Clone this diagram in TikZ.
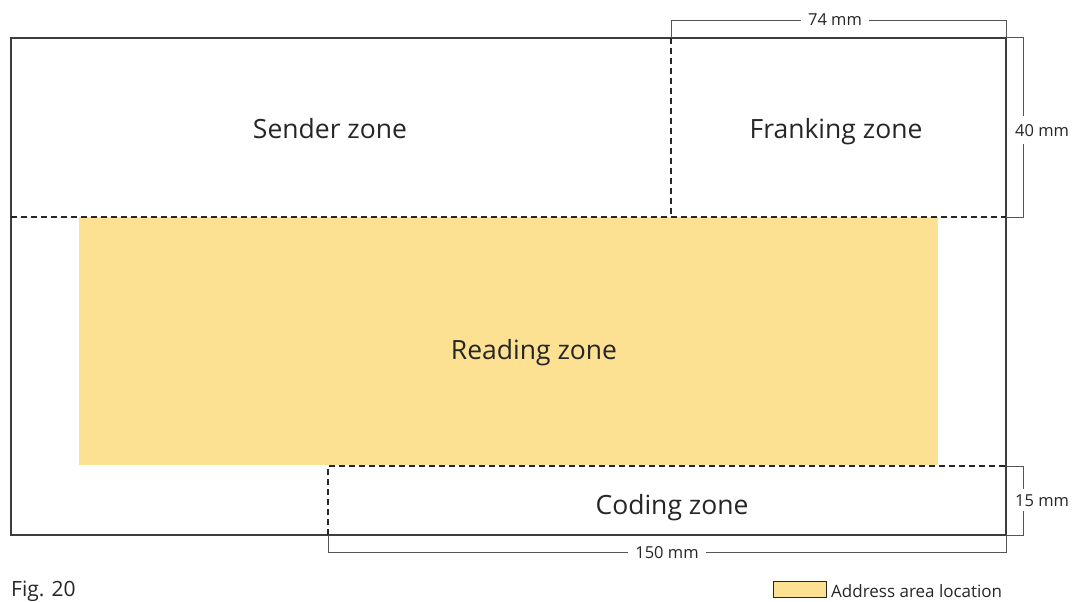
\documentclass[tikz,border=0pt]{standalone}
\usepackage{fontspec}
\setmainfont{Open Sans}
\definecolor{addr}{HTML}{FDE192}
\definecolor{ink}{HTML}{262626}
\definecolor{dimc}{HTML}{555555}
\begin{document}
\begin{tikzpicture}[x=1pt,y=-1pt,
  outline/.style={draw=ink!90,line width=1.1pt},
  zoneline/.style={draw=ink,line width=1.1pt,dash pattern=on 6pt off 4pt},
  dimline/.style={draw=dimc,line width=1pt},
  zonelabel/.style={font=\fontsize{26.5}{30}\selectfont,text=ink,inner sep=0pt,anchor=base},
  dimlabel/.style={font=\fontsize{16.5}{19}\selectfont,text=ink,fill=white,inner ysep=3pt,inner xsep=7pt,anchor=base},
  small/.style={font=\fontsize{17}{19}\selectfont,text=ink,inner sep=0pt}]
\useasboundingbox (0,0) rectangle (1074,602);
% address area
\fill[addr] (79,217) rectangle (938,465);
% envelope outline
\draw[outline] (11,38) rectangle (1006,535);
% zone boundaries
\coordinate (fl) at (671,38);
\coordinate (fb) at (671,217);
\coordinate (hl) at (11,217);
\coordinate (hr) at (1006,217);
\coordinate (ct) at (328,466);
\coordinate (cr) at (1006,466);
\coordinate (cb) at (328,535);
\draw[zoneline] (hl) -- (hr);
\draw[zoneline] (fl) -- (fb);
\draw[zoneline] (cb) -- (ct) -- (cr);
% zone labels
\node[zonelabel] (sender) at (330,138) {Sender zone};
\node[zonelabel] (franking) at (836,138) {Franking zone};
\node[zonelabel] (reading) at (534,359) {Reading zone};
\node[zonelabel] (coding) at (672,514) {Coding zone};
% dimensions
\coordinate (tr) at (1006,38);
\coordinate (br) at (1006,535);
\draw[dimline] (fl) -- (671,21) -- (1006,21) -- (tr);
\node[dimlabel] (d74) at (835,26) {74 mm};
\draw[dimline] (tr) -- (1023,38) -- (1023,217) -- (hr);
\node[dimlabel,anchor=base west,inner xsep=2pt,inner ysep=8pt] (d40) at (1013,136) {40 mm};
\draw[dimline] (cr) -- (1023,466) -- (1023,535) -- (br);
\node[dimlabel,anchor=base west,inner xsep=2pt,inner ysep=5pt] (d15) at (1013,506) {15 mm};
\draw[dimline] (cb) -- (328,552) -- (1006,552) -- (br);
\node[dimlabel] (d150) at (667,558) {150 mm};
% caption and legend
\node[small,anchor=base west,font=\fontsize{21}{24}\selectfont] (fig) at (11,596) {Fig. 20};
\node[draw=ink,line width=0.8pt,fill=addr,minimum width=53pt,minimum height=16pt,inner sep=0pt] (legbox) at (799.5,589.5) {};
\node[small,anchor=base west] (legtext) at (831,597) {Address area location};
\end{tikzpicture}
\end{document}
